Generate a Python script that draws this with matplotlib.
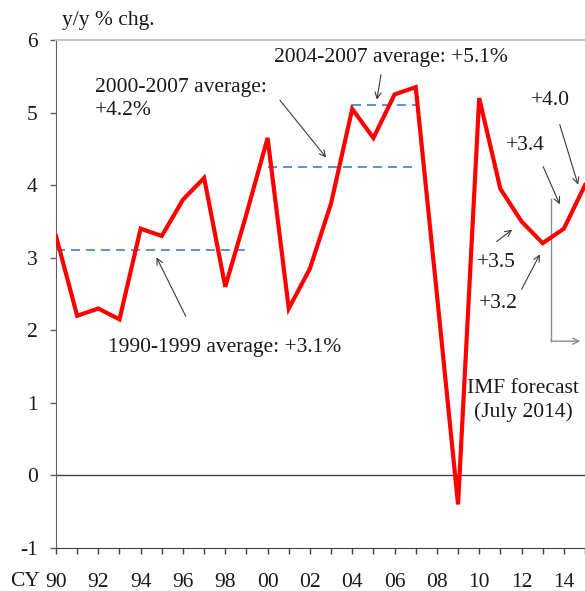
import numpy as np
import matplotlib
matplotlib.use("Agg")
import matplotlib.pyplot as plt

# World GDP growth, y/y % chg. (2014-2015 = IMF forecast, July 2014)
years = np.arange(1990, 2016)
growth = [3.3, 2.2, 2.3, 2.15, 3.4, 3.3, 3.8, 4.1, 2.6, 3.6,
          4.65, 2.3, 2.85, 3.75, 5.05, 4.65, 5.25, 5.35, 2.5, -0.4,
          5.2, 3.95, 3.5, 3.2, 3.4, 4.0]

# period averages: (start, end, value)
avg_starts = [1990, 2000, 2004]
avg_ends = [1999, 2007, 2007]
avg_values = [3.1, 4.25, 5.1]

tick_labels = [("%02d" % (y % 100)) if y % 2 == 0 else "" for y in years]

plt.rcParams['font.family'] = ['Liberation Serif', 'DejaVu Serif']
plt.rcParams['font.size'] = 15.5
plt.rcParams['axes.unicode_minus'] = False
txt_color = '#1a1a1a'

fig = plt.figure(figsize=(5.85, 5.91), dpi=100)
ax = fig.add_axes([56 / 585, 1 - 548 / 591, 1 - 56 / 585, (548 - 40) / 591])

ax.plot(years, growth, color='#ff0000', lw=3, solid_joinstyle='miter', zorder=4)

for s, e, v in zip(avg_starts, avg_ends, avg_values):
    ax.plot([s, e], [v, v], color='#4a8bd0', lw=1.3, linestyle=(0, (5, 3.3)), zorder=3)

ax.axhline(0, color='#404040', lw=1, zorder=2)

ax.set_xlim(1990, 2014.8)
ax.set_ylim(-1, 6)
ax.set_yticks(range(-1, 7))
ax.set_xticks(years)
ax.set_xticklabels(tick_labels)

ax.spines['right'].set_visible(False)
ax.spines['top'].set_color('#c4c4c4')
ax.spines['top'].set_linewidth(1.5)
ax.spines['left'].set_color('#606060')
ax.spines['bottom'].set_color('#404040')
ax.tick_params(axis='y', length=4.3, width=1, color='#606060', pad=9, labelcolor=txt_color)
ax.tick_params(axis='x', length=4.3, width=1, color='#404040', pad=14, labelcolor=txt_color)

arrow_kw = dict(arrowstyle='->', color='#3a3a3a', lw=0.8, mutation_scale=11)

# text labels
ax.text(2005.82, 5.76, "2004-2007 average: +5.1%", ha='center', va='center', color=txt_color)
ax.text(1991.83, 5.19, "2000-2007 average:\n+4.2%", ha='left', va='center', color=txt_color,
        linespacing=1.25)
ax.text(1992.44, 1.76, "1990-1999 average: +3.1%", ha='left', va='center', color=txt_color)
ax.text(2012.46, 5.17, "+4.0", ha='left', va='center', color=txt_color)
ax.text(2011.28, 4.54, "+3.4", ha='left', va='center', color=txt_color)
ax.text(2009.88, 2.93, "+3.5", ha='left', va='center', color=txt_color)
ax.text(2009.97, 2.37, "+3.2", ha='left', va='center', color=txt_color)
ax.text(2012.08, 1.03, "IMF forecast\n(July 2014)", ha='center', va='center',
        multialignment='center', color=txt_color, linespacing=1.3)

# pointer arrows
arrows = [((2005.38, 5.56), (2005.14, 5.14)),
          ((2000.50, 5.20), (2002.85, 4.35)),
          ((1996.19, 2.16), (1994.69, 3.04)),
          ((2013.77, 4.87), (2014.71, 3.97)),
          ((2012.97, 4.29), (2013.86, 3.70)),
          ((2010.72, 3.20), (2011.66, 3.41)),
          ((2011.94, 2.53), (2012.93, 3.08))]
for tail, head in arrows:
    ax.annotate("", xy=head, xytext=tail, arrowprops=arrow_kw, zorder=5)

# forecast bracket
ax.plot([2013.39, 2013.39], [3.81, 1.85], color='#8c8c8c', lw=1, zorder=3)
ax.annotate("", xy=(2014.78, 1.85), xytext=(2013.39, 1.85),
            arrowprops=dict(arrowstyle='->', color='#8c8c8c', lw=1, mutation_scale=11,
                            shrinkA=0, shrinkB=0), annotation_clip=False)

fig.text(62 / 585, 1 - 25 / 591, "y/y % chg.", ha='left', va='baseline', color=txt_color)
fig.text(40 / 585, 1 - 581 / 591, "CY", ha='right', va='center', color=txt_color)

fig.savefig("out.png", dpi=100)
